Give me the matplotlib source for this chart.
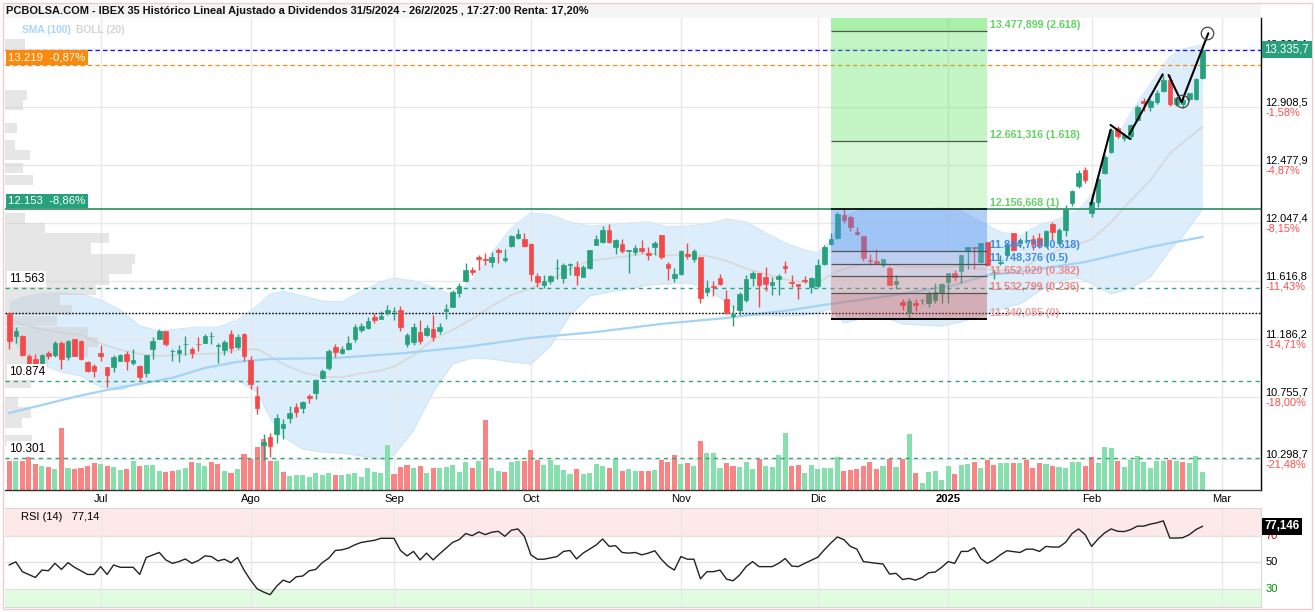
import matplotlib
matplotlib.use("Agg")
import matplotlib.pyplot as plt
from matplotlib.patches import Rectangle
import numpy as np
import pandas as pd

plt.rcParams['font.family'] = ['Liberation Sans', 'DejaVu Sans']

# ---------------- data ----------------
holidays = ['2024-12-25', '2024-12-26', '2025-01-01']
dates = pd.bdate_range('2024-06-11', '2025-02-26')
dates = dates[~dates.isin(pd.to_datetime(holidays))]

opens = [
    11384, 11211, 11211, 11062, 11038, 11013, 11087, 11068, 11161, 11057,
    11186, 11171, 11018, 10988, 11087, 10978, 10978, 11027, 11077, 11008,
    10988, 10934, 11112, 11191, 11246, 11097, 11087, 11149, 11116, 11151,
    11161, 11208, 11139, 11107, 11226, 11127, 11226, 11033, 10765, 10399,
    10463, 10483, 10528, 10602, 10681, 10676, 10765, 10785, 10899, 10973,
    11131, 11087, 11116, 11186, 11255, 11270, 11350, 11339, 11379, 11396,
    11404, 11151, 11166, 11240, 11221, 11265, 11250, 11394, 11428, 11528,
    11621, 11701, 11799, 11780, 11760, 11849, 11775, 11879, 11938, 11929,
    11894, 11656, 11592, 11621, 11713, 11641, 11735, 11725, 11651, 11716,
    11889, 11909, 11997, 11874, 11894, 11844, 11834, 11864, 11829, 11874,
    11963, 11745, 11641, 11671, 11819, 11785, 11795, 11537, 11582, 11641,
    11488, 11359, 11404, 11478, 11641, 11681, 11646, 11592, 11636, 11730,
    11612, 11597, 11626, 11572, 11582, 11745, 11894, 11938, 12111, 12091,
    11983, 11953, 11775, 11770, 11735, 11716, 11597, 11463, 11379, 11458,
    11476, 11458, 11478, 11528, 11612, 11676, 11696, 11849, 11871, 11760,
    11909, 11683, 11755, 11809, 11975, 11897, 11914, 11934, 11940, 11882,
    12042, 11897, 11997, 12194, 12324, 12443, 12127, 12205, 12421, 12577,
    12753, 12678, 12693, 12816, 12955, 12911, 12946, 13029, 13109, 12931,
    12933, 12970, 12970, 13124]
highs = [
    11389, 11275, 11218, 11077, 11077, 11077, 11102, 11171, 11171, 11181,
    11191, 11181, 11027, 11003, 11142, 10983, 11068, 11077, 11097, 11116,
    10998, 11072, 11201, 11265, 11251, 11112, 11146, 11211, 11131, 11206,
    11226, 11240, 11161, 11181, 11255, 11226, 11235, 11062, 10840, 10483,
    10493, 10632, 10592, 10691, 10711, 10726, 10780, 10894, 10964, 11116,
    11151, 11137, 11211, 11300, 11307, 11350, 11379, 11394, 11439, 11428,
    11433, 11235, 11305, 11330, 11290, 11364, 11305, 11448, 11552, 11602,
    11755, 11725, 11814, 11829, 11834, 11864, 11854, 11963, 12003, 11973,
    11899, 11676, 11661, 11666, 11780, 11750, 11750, 11765, 11735, 11849,
    11958, 12027, 12042, 11933, 11929, 11849, 11889, 11923, 11869, 11918,
    11963, 11760, 11716, 11849, 11899, 11854, 11799, 11626, 11621, 11671,
    11552, 11439, 11537, 11661, 11691, 11681, 11721, 11646, 11671, 11770,
    11661, 11597, 11656, 11651, 11780, 11889, 11973, 12131, 12157, 12111,
    12017, 11953, 11819, 11854, 11785, 11730, 11666, 11488, 11493, 11488,
    11488, 11543, 11602, 11607, 11681, 11701, 11814, 11869, 11871, 11903,
    11909, 11701, 11809, 11899, 11978, 11938, 11988, 11958, 11975, 11997,
    12055, 12012, 12183, 12294, 12443, 12465, 12263, 12376, 12554, 12755,
    12770, 12718, 12784, 12925, 12977, 12970, 13037, 13148, 13148, 12985,
    12985, 13015, 13126, 13349]
lows = [
    11112, 11161, 11062, 10983, 10978, 11008, 11038, 11057, 10968, 11033,
    11062, 11033, 10943, 10904, 11023, 10834, 10943, 11023, 10958, 10993,
    10879, 10904, 11042, 11186, 11137, 11023, 11018, 11072, 11047, 11102,
    11156, 11151, 11008, 11068, 11087, 11112, 11023, 10820, 10632, 10290,
    10310, 10414, 10444, 10567, 10607, 10642, 10716, 10741, 10889, 10958,
    11053, 11077, 11107, 11166, 11240, 11265, 11305, 11335, 11369, 11330,
    11250, 11131, 11146, 11151, 11211, 11176, 11226, 11335, 11424, 11502,
    11612, 11666, 11701, 11735, 11721, 11755, 11760, 11874, 11929, 11874,
    11621, 11572, 11567, 11597, 11636, 11602, 11666, 11587, 11651, 11710,
    11884, 11899, 11903, 11819, 11824, 11680, 11809, 11829, 11775, 11814,
    11785, 11626, 11612, 11661, 11785, 11760, 11458, 11508, 11508, 11592,
    11374, 11285, 11364, 11463, 11582, 11424, 11547, 11513, 11517, 11676,
    11572, 11483, 11602, 11528, 11567, 11740, 11889, 11933, 12052, 11993,
    11963, 11770, 11735, 11745, 11721, 11587, 11562, 11404, 11340, 11394,
    11448, 11424, 11453, 11453, 11453, 11621, 11607, 11710, 11706, 11755,
    11730, 11636, 11735, 11797, 11839, 11879, 11899, 11849, 11864, 11871,
    11923, 11886, 11953, 12176, 12309, 12346, 12094, 12168, 12413, 12569,
    12680, 12658, 12673, 12807, 12881, 12877, 12933, 13022, 12918, 12918,
    12903, 12955, 12963, 13118]
closes = [
    11176, 11246, 11072, 10993, 10988, 11068, 11062, 11161, 11038, 11176,
    11062, 11038, 10953, 10949, 11062, 10919, 11053, 11072, 11027, 11033,
    10904, 11068, 11176, 11246, 11151, 11100, 11107, 11151, 11087, 11149,
    11211, 11208, 11142, 11166, 11122, 11206, 11062, 10854, 10676, 10424,
    10394, 10602, 10557, 10637, 10646, 10721, 10750, 10884, 10953, 11102,
    11092, 11116, 11161, 11280, 11285, 11325, 11330, 11359, 11404, 11399,
    11280, 11221, 11280, 11176, 11270, 11206, 11280, 11409, 11537, 11582,
    11701, 11686, 11785, 11775, 11795, 11834, 11790, 11953, 11968, 11879,
    11671, 11612, 11621, 11656, 11716, 11735, 11745, 11661, 11720, 11849,
    11929, 11997, 11909, 11923, 11844, 11849, 11864, 11844, 11814, 11903,
    11795, 11716, 11671, 11844, 11805, 11844, 11493, 11567, 11575, 11597,
    11379, 11375, 11522, 11636, 11681, 11592, 11595, 11612, 11656, 11716,
    11604, 11582, 11619, 11641, 11735, 11874, 11929, 12116, 12072, 12017,
    11968, 11790, 11765, 11750, 11780, 11592, 11621, 11443, 11473, 11439,
    11478, 11528, 11537, 11597, 11676, 11651, 11814, 11869, 11864, 11903,
    11738, 11686, 11758, 11889, 11849, 11920, 11916, 11890, 11886, 11990,
    11985, 11995, 12150, 12287, 12421, 12369, 12203, 12374, 12539, 12738,
    12693, 12703, 12777, 12911, 12940, 12955, 13015, 13113, 12931, 12975,
    12960, 13015, 13118, 13335.7]
volumes = [
    118, 118, 118, 196, 103, 97, 92, 84, 248, 89,
    84, 89, 95, 108, 105, 97, 92, 81, 84, 116,
    95, 100, 100, 76, 73, 76, 81, 89, 113, 108,
    95, 114, 105, 76, 68, 86, 145, 124, 172, 204,
    118, 116, 73, 57, 60, 62, 52, 68, 60, 68,
    60, 60, 65, 68, 52, 89, 73, 68, 180, 65,
    92, 100, 89, 97, 68, 89, 89, 92, 100, 73,
    113, 89, 118, 281, 89, 76, 73, 113, 118, 118,
    161, 121, 100, 121, 100, 81, 65, 84, 65, 68,
    105, 97, 89, 126, 78, 84, 76, 76, 76, 81,
    121, 113, 140, 105, 108, 97, 196, 148, 148, 89,
    108, 97, 92, 113, 84, 124, 95, 92, 142, 228,
    95, 100, 70, 100, 84, 88, 89, 132, 76, 81,
    84, 95, 113, 86, 97, 124, 92, 124, 225, 68,
    28, 73, 76, 41, 97, 65, 100, 105, 113, 89,
    121, 100, 110, 110, 108, 108, 122, 88, 109, 106,
    98, 93, 90, 114, 114, 98, 133, 109, 173, 168,
    117, 93, 120, 136, 114, 88, 118, 118, 121, 116,
    113, 108, 137, 73]

# Bollinger (20) bands read at sample sessions (index into dates)
bb_idx = [0, 2, 5, 8, 11, 14, 17, 20, 23, 26, 29, 32, 35, 38, 40, 42, 45, 48, 51, 54,
          57, 59, 62, 65, 68, 71, 74, 77, 80, 83, 86, 89, 92, 95, 98, 101, 104, 107, 110, 113,
          116, 119, 122, 124, 126, 128, 131, 134, 137, 140, 143, 146, 149, 152, 155, 158, 161, 164, 166, 169,
          172, 175, 178, 180, 183]
bb_upper = [11456, 11500, 11526, 11530, 11522, 11478, 11404, 11285, 11248, 11263,
            11277, 11277, 11329, 11433, 11522, 11541, 11508, 11470, 11463, 11545,
            11611, 11641, 11619, 11574, 11508, 11626, 11827, 12012, 12124, 12109,
            12057, 12027, 12035, 12049, 12057, 12020, 12027, 12042, 12079, 12057,
            11975, 11901, 11849, 11827, 11923, 12109, 12146, 12146, 12146, 12153,
            12161, 12139, 12057, 11983, 11953, 12035, 12079, 12146, 12257, 12591,
            12866, 13081, 13282, 13341, 13371]
bb_lower = [11218, 11092, 10995, 10943, 10914, 10832, 10810, 10869, 10876, 10876,
            10876, 10884, 10884, 10795, 10602, 10461, 10372, 10349, 10342, 10320,
            10297, 10327, 10513, 10795, 11003, 11047, 11040, 11018, 11003, 11136,
            11366, 11508, 11537, 11560, 11589, 11597, 11604, 11567, 11456, 11366,
            11366, 11359, 11366, 11381, 11411, 11307, 11344, 11352, 11300, 11292,
            11285, 11315, 11359, 11411, 11448, 11545, 11619, 11641, 11597, 11522,
            11567, 11649, 11849, 11953, 12153]

# SMA (100) read at sample sessions
sma_idx = [0, 5, 10, 15, 20, 25, 30, 35, 40, 50, 60, 70, 80, 90, 100, 110, 120, 125, 135, 145,
           150, 155, 165, 175, 183]
sma_val = [10639, 10698, 10758, 10810, 10854, 10899, 10973, 11018, 11040, 11047, 11081, 11129,
           11196, 11240, 11300, 11344, 11404, 11441, 11508, 11589, 11663, 11686, 11760, 11871, 11946]

# RSI (14)
rsi_idx = [0, 1, 2, 4, 5, 6, 7, 8, 9, 10, 12, 13, 14, 15, 16, 17, 19, 20, 21, 23,
           24, 25, 26, 27, 28, 29, 30, 31, 32, 33, 34, 35, 36, 37, 38, 39, 40, 41, 42, 43,
           44, 45, 46, 47, 48, 49, 50, 51, 52, 53, 54, 55, 56, 57, 59, 60, 61, 62, 63, 64,
           65, 66, 68, 69, 70, 71, 72, 73, 74, 75, 76, 77, 78, 79, 80, 81, 82, 84, 85, 86,
           87, 88, 90, 91, 92, 93, 94, 95, 96, 97, 98, 99, 100, 101, 102, 103, 104, 105, 106, 107,
           108, 109, 110, 111, 112, 113, 114, 115, 117, 118, 119, 120, 121, 122, 124, 125, 126, 127, 128, 129,
           130, 131, 133, 134, 135, 136, 137, 138, 139, 140, 141, 142, 143, 144, 145, 146, 147, 148, 149, 150,
           151, 152, 153, 155, 156, 157, 158, 159, 160, 161, 162, 163, 164, 165, 166, 167, 168, 169, 170, 171,
           172, 173, 174, 175, 176, 177, 178, 179, 180, 181, 182, 183]
rsi_val = [48.0, 50.3, 42.9, 38.5, 44.1, 43.6, 49.2, 44.6, 49.7, 46.2, 40.8, 40.8, 46.7, 40.8, 48.0, 46.2, 46.2, 40.8, 53.6, 57.4,
           51.8, 49.2, 50.5, 52.5, 49.2, 51.3, 54.8, 54.3, 51.0, 52.3, 49.7, 53.6, 44.1, 36.5, 30.0, 27.5, 25.5, 31.9, 36.5, 34.7,
           39.0, 39.6, 43.6, 44.6, 49.7, 53.1, 58.9, 59.4, 60.7, 63.2, 65.0, 65.8, 66.6, 68.1, 68.1, 58.9, 54.8, 58.2, 51.8, 56.9,
           51.8, 56.4, 65.0, 67.1, 71.7, 70.1, 72.9, 70.9, 72.7, 73.4, 69.6, 74.2, 75.2, 69.6, 55.6, 52.3, 52.3, 54.3, 58.2, 58.9,
           52.5, 56.9, 63.0, 67.6, 62.0, 62.5, 57.4, 56.9, 57.4, 55.6, 56.9, 58.7, 52.3, 47.2, 44.1, 54.3, 52.3, 52.3, 37.5, 42.9,
           42.9, 44.1, 37.3, 36.0, 40.3, 46.7, 50.5, 46.7, 46.7, 49.2, 52.8, 47.2, 46.7, 49.2, 53.8, 59.4, 64.5, 69.1, 67.1, 62.0,
           59.9, 50.5, 49.2, 48.7, 41.1, 41.6, 37.0, 37.8, 36.5, 38.5, 42.1, 42.6, 46.2, 50.5, 49.2, 58.2, 58.2, 61.0, 52.8, 49.2,
           51.8, 55.6, 58.7, 57.4, 59.9, 59.9, 58.2, 62.0, 61.5, 61.5, 65.0, 71.7, 75.2, 70.9, 62.0, 67.6, 72.2, 75.2, 73.4, 73.2,
           74.7, 77.3, 77.3, 78.8, 79.8, 81.3, 68.3, 68.3, 68.6, 70.9, 74.7, 77.146]

# volume-at-price profile (left grey bars, arbitrary volume units)
profile_price = [13378, 13000, 12925, 12755, 12629, 12554, 12458, 12369, 12087, 12012,
                 11938, 11860, 11782, 11708, 11630, 11552, 11478, 11404, 11322, 11240,
                 11166, 11092, 11018, 10940, 10862, 10721, 10643, 10565, 10435]
profile_vol = [20, 22, 18, 12, 10, 25, 18, 28, 20, 40,
               104, 86, 130, 127, 104, 91, 55, 67, 52, 83,
               93, 83, 43, 26, 26, 13, 26, 17, 27]

# Fibonacci projection
fib_from, fib_to = '2024-12-04', '2025-01-10'
fib_high, fib_low = 12156.668, 11340.085
fib_ratios = [0, 0.236, 0.382, 0.5, 0.618, 1, 1.618, 2.618]

# hand-drawn trend lines (session index, price)
trend_segments = [
    ([165.9, 168.9], [12188, 12740]),
    ([168.9, 171.9], [12777, 12673]),
    ([171.8, 176.9], [12708, 13153]),
    ([177.8, 179.8], [13148, 12946]),
    ([179.8, 183.9], [12946, 13458]),
]
circle_x = [179.8, 183.7]
circle_y = [12955, 13458]

last_price = 13335.7
ref_price = 13219
green_level = 12153
support_levels = [11563, 10874, 10301]
dotted_level = 11379
axis_ticks = [13339.1, 12908.5, 12477.9, 12047.4, 11616.8, 11186.2, 10755.7, 10298.7]
axis_pct = [None, '-1,58%', '-4,87%', '-8,15%', '-11,43%', '-14,71%', '-18,00%', '-21,48%']
rsi_last = 77.146
rsi_title = "RSI (14)   77,14"

# ---------------- helpers ----------------
W, H = 1315, 612
def rect(x0, y0, x1, y1):
    return [x0 / W, 1 - y1 / H, (x1 - x0) / W, (y1 - y0) / H]

def es(v, d):
    s = f"{v:,.{d}f}"
    return s.replace(',', 'X').replace('.', ',').replace('X', '.')

PX = 0.72  # points per pixel at dpi 100

opens = np.array(opens, float); highs = np.array(highs, float)
lows = np.array(lows, float); closes = np.array(closes, float)
volumes = np.array(volumes, float)
xs = np.arange(len(dates))

future = pd.bdate_range('2025-02-27', '2025-03-31')
all_days = dates.append(future)
month_first = {}
for i, d in enumerate(all_days):
    key = (d.year, d.month)
    if key not in month_first:
        month_first[key] = i
mnames = {1: '2025', 2: 'Feb', 3: 'Mar', 7: 'Jul', 8: 'Ago', 9: 'Sep', 10: 'Oct', 11: 'Nov', 12: 'Dic'}
month_ticks = [(i, mnames[m]) for (y, m), i in month_first.items() if m in mnames and i > 0]

x_lo, x_hi = -0.66, 191.98
y_lo, y_hi = 10067, 13571

fig = plt.figure(figsize=(W / 100, H / 100), dpi=100)
fig.patch.set_facecolor('white')

MAIN = rect(5, 18, 1261, 490)
ax_bg = fig.add_axes(MAIN, zorder=0)
ax_pf = fig.add_axes(MAIN, zorder=0.5)
ax_vol = fig.add_axes(MAIN, zorder=1)
ax = fig.add_axes(MAIN, zorder=2)
for a in (ax_bg, ax_vol, ax):
    a.set_xlim(x_lo, x_hi)
for a in (ax_bg, ax_pf, ax):
    a.set_ylim(y_lo, y_hi)
for a in (ax_pf, ax_vol, ax):
    a.patch.set_visible(False)
for a in (ax_bg, ax_pf, ax_vol, ax):
    a.set_xticks([]); a.set_yticks([])
    for s in a.spines.values():
        s.set_visible(False)

# grid
for p in axis_ticks:
    ax_bg.axhline(p, color='#e9e9e9', lw=1)
for i, _ in month_ticks:
    ax_bg.axvline(i, color='#e9e9e9', lw=1)

# bollinger
bu = np.array(bb_upper, float); bl = np.array(bb_lower, float)
ax_bg.fill_between(bb_idx, bl, bu, color='#dcedfb', lw=0)
ax_bg.plot(bb_idx, bu, color='#cfe6f9', lw=0.8)
ax_bg.plot(bb_idx, bl, color='#cfe6f9', lw=0.8)
ax_bg.plot(bb_idx, (bu + bl) / 2, color='#d8d8d8', lw=1.2)

# volume profile
ax_pf.set_xlim(0, 1256)
ax_pf.barh(profile_price, profile_vol, height=76, left=0, color='#cfcfcf', alpha=0.5, lw=0)

# volume
prev = np.concatenate([[closes[0] + 1], closes[:-1]])
vcol = np.where(closes >= prev, '#85e0ae', '#fa8383')
ax_vol.set_ylim(0, 1888)
ax_vol.bar(xs, volumes, width=0.78, color=vcol, lw=0)

# SMA 100
ax.plot(sma_idx, sma_val, color='#a3d3f7', lw=1.6, zorder=2)

# horizontal levels
ax.axhline(last_price, color='#1010ff', lw=0.9, dashes=(3.5, 2.5), zorder=2)
ax.axhline(ref_price, color='#f08c1a', lw=0.9, dashes=(3.5, 2.5), zorder=2)
ax.axhline(green_level, color='#2e8b62', lw=1.2, zorder=2)
for lv in support_levels:
    ax.axhline(lv, color='#35a578', lw=1, dashes=(3, 3), zorder=2)
ax.axhline(dotted_level, color='black', lw=1, dashes=(1.2, 1.2), zorder=2)

# candles
up = closes >= opens
ccol = np.where(up, '#26a17b', '#f54848')
ax.vlines(xs, lows, highs, colors=ccol, lw=1, zorder=3)
ax.bar(xs, closes - opens, bottom=opens, width=0.7, color=ccol, edgecolor=ccol, lw=0.5, zorder=3)

# fibonacci
i0 = int(np.where(dates == pd.Timestamp(fib_from))[0][0])
i1 = int(np.where(dates == pd.Timestamp(fib_to))[0][0])
rng = fib_high - fib_low
lev = [fib_low + r * rng for r in fib_ratios]
zones = [
    (lev[7], y_hi, '#4de14d', 0.48),
    (lev[6], lev[7], '#4de14d', 0.33),
    (lev[5], lev[6], '#4de14d', 0.22),
    (lev[4], lev[5], '#4a8ef0', 0.42),
    (lev[3], lev[4], '#8c9fe0', 0.38),
    (lev[2], lev[3], '#c29ab8', 0.35),
    (lev[1], lev[2], '#d47c7c', 0.35),
    (lev[0], lev[1], '#c85858', 0.42),
]
for lo_, hi_, c, a in zones:
    ax.fill_between([i0, i1], lo_, hi_, color=c, alpha=a, lw=0, zorder=4)
for r, v in zip(fib_ratios, lev):
    if r in (0, 1):
        ax.hlines(v, i0, i1, colors='black', lw=1.4 if r == 0 else 1.1, zorder=5)
    else:
        ax.hlines(v, i0, i1, colors='#555555', lw=0.9, zorder=5)
    if r >= 1:
        col = '#62d262'
    elif r >= 0.5:
        col = '#3a8ae6'
    elif r > 0:
        col = '#f08585'
    else:
        col = '#f0a0a0'
    ax.annotate(f"{es(v, 3)} ({r:g})", xy=(i1, v), xytext=(2, 0.3), textcoords='offset points',
                ha='left', va='bottom', fontsize=7.7, fontweight='bold', color=col, zorder=6,
                annotation_clip=False)

# trend lines
for sx, sy in trend_segments:
    ax.plot(sx, sy, color='black', lw=1.5, zorder=6, solid_capstyle='round')
ax.plot(circle_x, circle_y, 'o', ms=9, mfc='none', mec='#444444', mew=0.9, zorder=6)

# left labels
ax.annotate(f"{es(ref_price, 0)}  -0,87%", xy=(0, ref_price), xycoords=('axes fraction', 'data'),
            xytext=(2.5, 2.2), textcoords='offset points', ha='left', va='bottom', fontsize=8.2,
            color='white', zorder=7,
            bbox=dict(boxstyle='square,pad=0.2', fc='#fb8a0c', ec='none'))
ax.annotate(f"{es(green_level, 0)}  -8,86%", xy=(0, green_level), xycoords=('axes fraction', 'data'),
            xytext=(2.5, 2.2), textcoords='offset points', ha='left', va='bottom', fontsize=8.2,
            color='white', zorder=7,
            bbox=dict(boxstyle='square,pad=0.2', fc='#26a17b', ec='none'))
for lv in support_levels:
    ax.annotate(es(lv, 0), xy=(0, lv), xycoords=('axes fraction', 'data'),
                xytext=(3, 2.5), textcoords='offset points', ha='left', va='bottom', fontsize=8.5,
                color='black', zorder=7,
                bbox=dict(boxstyle='square,pad=0.15', fc='white', ec='none'))

# right axis
ax.spines['right'].set_visible(True); ax.spines['right'].set_color('black'); ax.spines['right'].set_linewidth(1)
ax.spines['bottom'].set_visible(True); ax.spines['bottom'].set_color('#333333'); ax.spines['bottom'].set_linewidth(1)
for p, pct in zip(axis_ticks, axis_pct):
    ax.annotate(es(p, 1), xy=(1, p), xycoords=ax.get_yaxis_transform(), xytext=(3, 3.4),
                textcoords='offset points', ha='left', va='center', fontsize=7.9, color='black',
                annotation_clip=False)
    if pct:
        ax.annotate(pct, xy=(1, p), xycoords=ax.get_yaxis_transform(), xytext=(3, -4.0),
                    textcoords='offset points', ha='left', va='center', fontsize=7.9, color='#ff4d4d',
                    annotation_clip=False)
ax.annotate(es(last_price, 1), xy=(1, last_price), xycoords=ax.get_yaxis_transform(), xytext=(2.5, 0),
            textcoords='offset points', ha='left', va='center', fontsize=8.3, color='white',
            annotation_clip=False, zorder=8,
            bbox=dict(boxstyle='square,pad=0.22', fc='#26a17b', ec='none'))

# month labels
for i, lab in month_ticks:
    ax.annotate(lab, xy=(i, 0), xycoords=('data', 'axes fraction'), xytext=(0, -9 * PX),
                textcoords='offset points', ha='center', va='center', fontsize=8,
                fontweight='bold' if lab == '2025' else 'normal', annotation_clip=False)

# ---------------- RSI panel ----------------
axr = fig.add_axes(rect(5, 508, 1261, 607))
axr.set_xlim(x_lo, x_hi)
axr.set_ylim(16.2, 91)
axr.axhspan(70, 91, color='#fde9e9', lw=0)
axr.axhspan(16.2, 30, color='#e2fce2', lw=0)
for lv in (70, 50, 30):
    axr.axhline(lv, color='#e2e2e2', lw=1)
for i, _ in month_ticks:
    axr.axvline(i, color='#e9e9e9', lw=1)
axr.plot(rsi_idx, rsi_val, color='#222222', lw=1)
axr.set_xticks([]); axr.set_yticks([])
for k, s in axr.spines.items():
    s.set_color('#d8d8d8')
axr.spines['left'].set_visible(False)
for lv, c in ((70, '#e00000'), (50, 'black'), (30, '#009000')):
    axr.annotate(str(lv), xy=(1, lv), xycoords=axr.get_yaxis_transform(), xytext=(3, 0),
                 textcoords='offset points', ha='left', va='center', fontsize=8, color=c,
                 annotation_clip=False)
axr.annotate(es(rsi_last, 3), xy=(1, rsi_last), xycoords=axr.get_yaxis_transform(), xytext=(2.5, 0),
             textcoords='offset points', ha='left', va='center', fontsize=8.3, color='white',
             fontweight='bold', annotation_clip=False,
             bbox=dict(boxstyle='square,pad=0.22', fc='black', ec='none'))
fig.text(21 / W, 1 - 517 / H, rsi_title, fontsize=8, va='center', ha='left')

# ---------------- header ----------------
fig.add_artist(Rectangle((5 / W, 1 - 18 / H), 1256 / W, 14 / H, transform=fig.transFigure,
                         fc='#f5f5f5', ec='none', zorder=-1))
fig.text(6 / W, 1 - 11.5 / H,
         "PCBOLSA.COM - IBEX 35 Histórico Lineal Ajustado a Dividendos 31/5/2024 - 26/2/2025 , 17:27:00 Renta: 17,20%",
         fontsize=7.95, fontweight='bold', va='center', ha='left', color='#111111')
fig.text(22 / W, 1 - 30 / H, "SMA (100)", fontsize=7.4, fontweight='bold', color='#a8d6f6', va='center')
fig.text(76 / W, 1 - 30 / H, "BOLL (20)", fontsize=7.4, fontweight='bold', color='#d4d4d4', va='center')
fig.add_artist(Rectangle((3 / W, 1 - 609 / H), 1309 / W, 606 / H, transform=fig.transFigure,
                         fill=False, ec='#f2cccc', lw=1))

fig.savefig('out.png', dpi=100)
